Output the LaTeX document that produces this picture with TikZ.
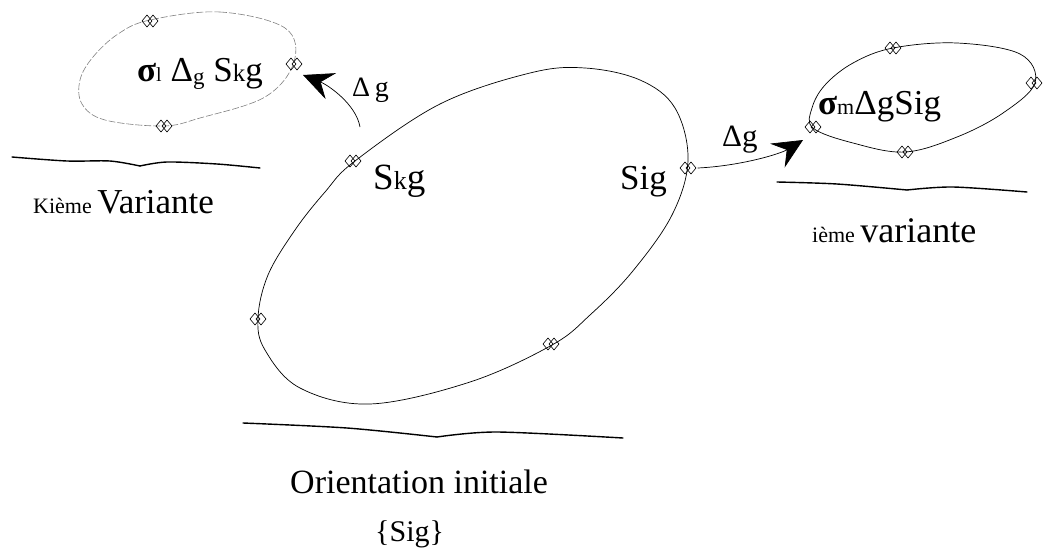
\documentclass[tikz,border=0pt]{standalone}
\usepackage{fontspec}
\setmainfont{Liberation Serif}
\usetikzlibrary{arrows.meta}
\begin{document}
\begin{tikzpicture}[x=1pt,y=-1pt,
  curve/.style={line width=0.7pt},
  faint/.style={line width=0.6pt, gray, dash pattern=on 7pt off 2pt},
  wave/.style={line width=1.4pt, line cap=round},
  lbl/.style={inner sep=0pt, anchor=base west},
  arr/.style={line width=0.7pt, -{Stealth[length=30pt,width=28pt,inset=11pt]}},
  mk/.style={inner sep=0pt, minimum width=19pt, minimum height=15pt,
    path picture={
      \draw[line width=0.6pt] ([xshift=-3pt]path picture bounding box.center) ++(-5pt,0pt) -- ++(5pt,6pt) -- ++(5pt,-6pt) -- ++(-5pt,-6pt) -- cycle;
      \draw[line width=0.6pt] ([xshift=3pt]path picture bounding box.center) ++(-5pt,0pt) -- ++(5pt,6pt) -- ++(5pt,-6pt) -- ++(-5pt,-6pt) -- cycle;
    }}
]
\useasboundingbox (0,0) rectangle (1049,557);

% main ellipse
\draw[curve] plot[smooth cycle, tension=0.6] coordinates {(355,161) (440,104) (530,73) (585,68) (640,80) (675,108) (688,160) (672,215) (632,272) (590,315) (552,345) (470,382) (370,404) (300,388) (265,350) (258,318) (268,275) (295,230) (325,192)};

% top-left ellipse
\draw[faint] plot[smooth cycle, tension=0.6] coordinates {(150,20) (220,12) (285,28) (294,62) (265,97) (200,118) (163,126) (105,120) (82,104) (80,80) (93,57) (118,34)};

% right ellipse
\draw[curve] plot[smooth cycle, tension=0.6] coordinates {(813,128) (812,108) (825,85) (853,63) (893,48) (957,43) (1020,54) (1035,83) (1003,113) (957,137) (905,152) (853,143)};

% markers
\node[mk] (mSkg) at (353,161) {};
\node[mk] (mSig) at (688,168) {};
\node[mk] (mL) at (258,319) {};
\node[mk] (mB) at (551,344) {};
\node[mk] (tl1) at (150,21) {};
\node[mk] (tl2) at (294,64) {};
\node[mk] (tl3) at (164,126) {};
\node[mk] (r1) at (813,127) {};
\node[mk] (r2) at (893,48) {};
\node[mk] (r3) at (1034,83) {};
\node[mk] (r4) at (905,152) {};

% wavy lines
\draw[wave] plot[smooth, tension=0.5] coordinates {(12,157) (67,161) (110,161) (140,166)};
\draw[wave] plot[smooth, tension=0.5] coordinates {(140,166) (167,162) (217,164) (260,168)};
\draw[wave] plot[smooth, tension=0.5] coordinates {(777,182) (837,184) (907,190)};
\draw[wave] plot[smooth, tension=0.5] coordinates {(907,190) (953,187) (1027,192)};
\draw[wave] plot[smooth, tension=0.5] coordinates {(243,423) (347,428) (437,437)};
\draw[wave] plot[smooth, tension=0.5] coordinates {(437,437) (497,432) (623,438)};

% arrows
\coordinate (a1s) at (360,127);
\coordinate (a1t) at (303,75);
\coordinate (a2t) at (803,140);
\draw[arr] (a1s) .. controls (356,104) and (328,85) .. (a1t);
\draw[arr] (mSig.east) .. controls (740,166) and (780,154) .. (a2t);

% labels
\node[lbl, font=\fontsize{35}{40}\selectfont] (tTL) at (137,81) {\textbf{σ}{\fontsize{20}{24}\selectfont l} Δ{\fontsize{23}{24}\selectfont\raisebox{-3pt}{g}} S{\fontsize{25}{26}\selectfont k}g};
\node[lbl, font=\fontsize{28}{32}\selectfont] (dL) at (352,96) {Δ\,g};
\node[lbl, font=\fontsize{37}{40}\selectfont] (tSkg) at (373,189) {S{\fontsize{26}{28}\selectfont k}g};
\node[lbl, font=\fontsize{35}{40}\selectfont] (tSig) at (620,189) {Sig};
\node[lbl, font=\fontsize{31}{34}\selectfont] (dR) at (722,146) {Δg};
\node[lbl, font=\fontsize{35}{38}\selectfont] (tR) at (818,114) {\textbf{σ}{\fontsize{22}{24}\selectfont m}ΔgSig};

\node[lbl, font=\fontsize{22}{24}\selectfont] (kv) at (33,213) {Kième \fontsize{35}{38}\selectfont Variante};
\node[lbl, font=\fontsize{22}{24}\selectfont] (iv) at (812,242) {ième \fontsize{36}{38}\selectfont variante};
\node[lbl, font=\fontsize{34}{40}\selectfont] (oi) at (290,493) {Orientation initiale};
\node[lbl, font=\fontsize{30}{34}\selectfont] (sg) at (375,541) {\{Sig\}};
\end{tikzpicture}
\end{document}
